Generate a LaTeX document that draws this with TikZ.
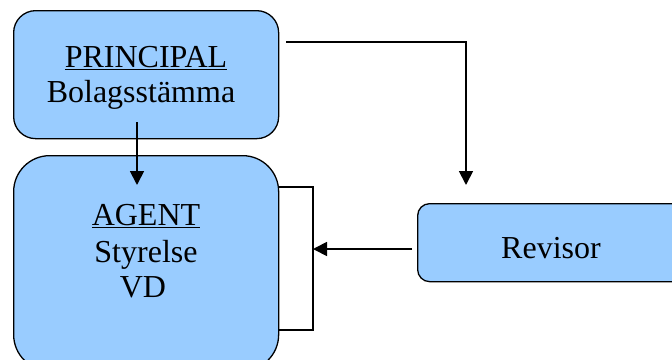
\documentclass[tikz,border=0pt]{standalone}
\usepackage{fontspec}
\setmainfont{Liberation Serif}
\usetikzlibrary{arrows.meta}
\definecolor{boxblue}{HTML}{99CCFF}
\begin{document}
\begin{tikzpicture}[x=1pt,y=-1pt,
  box/.style={draw=black, line width=1.3pt, fill=boxblue, inner sep=0pt},
  txt/.style={font=\fontsize{32}{36}\selectfont, inner sep=0pt, anchor=base},
  wire/.style={line width=1.8pt},
  link/.style={wire, -{Triangle[length=14pt,width=14pt]}}]
\useasboundingbox (0,0) rectangle (672,359);
\clip (0,0) rectangle (672,359);

% boxes
\node[box, rounded corners=22pt, minimum width=265pt, minimum height=128pt,
      anchor=north west] (principal) at (13,10) {};
\node[box, rounded corners=36pt, minimum width=265pt, minimum height=215pt,
      anchor=north west] (agent) at (13,155) {};
\node[box, rounded corners=12pt, minimum width=280pt, minimum height=78pt,
      anchor=north west] (revisor) at (417,203) {};

% box texts
\node[txt] (ptitle) at (146,67) {\underline{PRINCIPAL}};
\node[txt] (pbody) at (141,102) {Bolagsstämma};
\node[txt] (atitle) at (146,225) {\underline{AGENT}};
\node[txt] (abody1) at (146,262) {Styrelse};
\node[txt] (abody2) at (143,297) {VD};
\node[txt] (rtext) at (551,258) {Revisor};

% connector end points
\coordinate (pdown) at (137,122);
\coordinate (adown) at (137,185);
\coordinate (pright) at (286,42);
\coordinate (rtop) at (466,185);
\coordinate (rleft) at (412,249);
\coordinate (bmid) at (313,249);
\coordinate (btop) at (278,187);
\coordinate (bbot) at (278,330);

% connectors
\draw[link] (pdown) -- (adown);
\draw[link] (pright) -| (rtop);
\draw[link] (rleft) -- (bmid);
\draw[wire] (btop) -| (bmid |- bbot) -- (bbot);
\end{tikzpicture}
\end{document}
